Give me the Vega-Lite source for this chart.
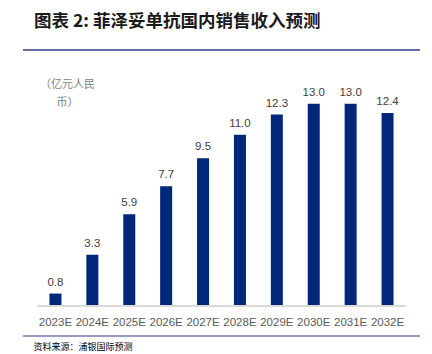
{
  "$schema": "https://vega.github.io/schema/vega-lite/v6.json",
  "width": 397,
  "height": 256,
  "autosize": {"type": "none"},
  "padding": {"left": 23, "top": 50, "right": 12, "bottom": 48},
  "background": "white",
  "config": {"view": {"stroke": null}, "font": "Liberation Sans"},
  "title": {
    "text": "图表 2: 菲泽妥单抗国内销售收入预测",
    "font": "Noto Sans CJK SC",
    "fontSize": 17.5,
    "fontWeight": "bold",
    "color": "#1a1a1a",
    "anchor": "start",
    "frame": "group",
    "dx": 11,
    "dy": 20,
    "offset": 21,
    "baseline": "bottom"
  },
  "data": {
    "values": [
      {"year": "2023E", "value": 0.8},
      {"year": "2024E", "value": 3.3},
      {"year": "2025E", "value": 5.9},
      {"year": "2026E", "value": 7.7},
      {"year": "2027E", "value": 9.5},
      {"year": "2028E", "value": 11.0},
      {"year": "2029E", "value": 12.3},
      {"year": "2030E", "value": 13.0},
      {"year": "2031E", "value": 13.0},
      {"year": "2032E", "value": 12.4}
    ]
  },
  "layer": [
    {
      "mark": {"type": "bar", "color": "#00277a"},
      "encoding": {
        "x": {
          "field": "year",
          "type": "nominal",
          "sort": null,
          "scale": {"paddingInner": 0.675, "paddingOuter": 0.717},
          "axis": {
            "domain": false,
            "ticks": false,
            "labelAngle": 0,
            "labelFont": "Liberation Sans",
            "labelFontSize": 11.5,
            "labelColor": "#595959",
            "labelPadding": 10,
            "title": "资料来源：浦银国际预测",
            "titleFont": "Noto Sans CJK SC",
            "titleFontSize": 9,
            "titleFontWeight": "normal",
            "titleColor": "#000000",
            "titleAnchor": "start",
            "titleAlign": "left",
            "titleX": 10,
            "titleY": 36
          }
        },
        "y": {
          "field": "value",
          "type": "quantitative",
          "scale": {"domain": [0, 16.45], "nice": false, "zero": true},
          "axis": {
            "domain": false,
            "ticks": false,
            "labels": false,
            "grid": false,
            "title": ["（亿元人民", "币）"],
            "titleAngle": 0,
            "titleFont": "Noto Sans CJK SC",
            "titleFontSize": 11,
            "titleFontWeight": "normal",
            "titleColor": "#7f7f7f",
            "titleAlign": "center",
            "titleBaseline": "top",
            "titleX": 44,
            "titleY": 28,
            "titleLineHeight": 18
          }
        }
      }
    },
    {
      "mark": {"type": "text", "dy": -11, "fontSize": 11.5, "color": "#404040", "font": "Liberation Sans"},
      "encoding": {
        "x": {"field": "year", "type": "nominal", "sort": null},
        "y": {"field": "value", "type": "quantitative"},
        "text": {"field": "value", "type": "quantitative", "format": ".1f"}
      }
    },
    {
      "mark": {"type": "rule", "color": "#d9d9d9", "strokeWidth": 1},
      "encoding": {
        "x": {"datum": "2023E", "type": "nominal", "bandPosition": -1.04},
        "x2": {"datum": "2032E", "bandPosition": 2.04},
        "y": {"datum": 0, "type": "quantitative"}
      }
    },
    {
      "mark": {"type": "rule", "color": "#6b6ba8", "strokeWidth": 1.2},
      "encoding": {
        "x": {"datum": "2023E", "type": "nominal", "bandPosition": -2.2},
        "x2": {"datum": "2032E", "bandPosition": 3.2},
        "y": {"datum": 16.45, "type": "quantitative"}
      }
    },
    {
      "mark": {"type": "rule", "color": "#9a9ac4", "strokeWidth": 1.2},
      "encoding": {
        "x": {"datum": "2023E", "type": "nominal", "bandPosition": -2.2},
        "x2": {"datum": "2032E", "bandPosition": 3.2},
        "y": {"datum": -1.93, "type": "quantitative"}
      }
    }
  ]
}
